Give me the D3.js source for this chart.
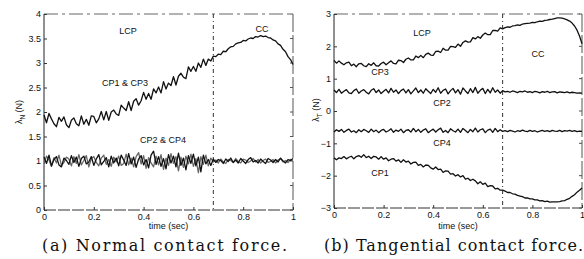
<!DOCTYPE html>
<html>
<head>
<meta charset="utf-8">
<script src="https://cdn.jsdelivr.net/npm/d3@7"></script>
<style>
  body { margin: 0; background: #fff; }
  svg { display: block; }
  .tick text { font-family: "Liberation Sans", Arial, sans-serif; font-size: 9px; fill: #111; }
  .lbl { font-family: "Liberation Sans", Arial, sans-serif; font-size: 9px; fill: #111; }
  .cap { font-family: "DejaVu Serif", serif; font-size: 16px; fill: #111; }
</style>
</head>
<body>
<div id="chart"></div>
<script>
// --- DATA ---
const time = [
  0,.01,.02,.03,.04,.05,.06,.07,.08,.09,
  .1,.11,.12,.13,.14,.15,.16,.17,.18,.19,
  .2,.21,.22,.23,.24,.25,.26,.27,.28,.29,
  .3,.31,.32,.33,.34,.35,.36,.37,.38,.39,
  .4,.41,.42,.43,.44,.45,.46,.47,.48,.49,
  .5,.51,.52,.53,.54,.55,.56,.57,.58,.59,
  .6,.61,.62,.63,.64,.65,.66,.67,.68,.69,
  .7,.71,.72,.73,.74,.75,.76,.77,.78,.79,
  .8,.81,.82,.83,.84,.85,.86,.87,.88,.89,
  .9,.91,.92,.93,.94,.95,.96,.97,.98,.99,
  1
];
const switchTime = 0.68; // LCP -> CC

// (a) normal force
const normalCP13 = [
  1.94,1.78,1.97,1.86,1.76,1.70,1.89,1.81,1.90,1.74,
  1.68,1.83,1.88,1.76,1.72,1.92,1.75,1.85,1.73,1.92,
  1.91,1.78,1.86,2.01,1.84,2.01,1.83,2.00,2.04,1.96,
  1.93,2.14,2.08,2.03,2.21,2.03,2.22,2.27,2.14,2.23,
  2.40,2.26,2.38,2.26,2.47,2.39,2.51,2.39,2.62,2.47,
  2.59,2.54,2.72,2.55,2.73,2.79,2.71,2.68,2.92,2.83,
  2.93,2.83,3.00,2.91,3.08,2.95,3.08,3.04,3.14,3.13,
  3.18,3.17,3.24,3.23,3.29,3.33,3.34,3.39,3.41,3.42,
  3.46,3.45,3.49,3.51,3.50,3.54,3.53,3.56,3.54,3.55,
  3.52,3.51,3.47,3.45,3.39,3.36,3.28,3.23,3.13,3.07,
  2.97
];
const normalCP2 = [
  1.08,.95,1.12,.90,1.03,1.09,.92,.88,1.06,1.01,
  .93,1.11,.97,1.08,.89,1.05,1.10,.94,.98,1.09,
  .91,1.04,1.13,.92,.99,1.07,.88,1.10,.96,1.06,
  .90,1.12,1.02,.91,1.15,.94,1.08,.87,1.04,1.11,
  .92,1.03,.86,1.12,1.20,.93,1.09,.89,1.05,.84,
  1.13,.96,1.10,.88,1.16,.91,1.06,.82,1.11,.95,
  1.14,.90,1.08,.78,1.12,.94,1.03,.91,1.04,.97,
  1.03,1.01,.95,1.04,.99,1.06,.97,1.02,.96,1.05,
  1.00,.95,1.03,1.07,.98,1.01,.96,1.04,.99,.95,
  1.05,1.02,.97,1.03,.98,1.06,1.00,.96,1.03,1.01,
  1.05
];
const normalCP4 = [
  .94,1.10,1.02,.89,1.07,.96,1.12,.91,.97,1.08,
  1.04,.90,1.09,.95,1.13,.92,1.01,1.11,.88,1.05,
  1.09,.97,.90,1.06,1.12,.93,1.03,.89,1.08,.98,
  1.10,.91,.95,1.14,.92,1.06,.88,1.09,1.17,.94,
  1.11,.85,1.07,.96,.88,1.10,.92,1.13,.83,1.06,
  .91,1.15,.95,1.09,.80,1.08,.87,1.10,.94,1.14,
  .89,1.05,.76,1.09,.93,1.12,.90,1.06,.98,1.02,
  .96,1.04,.98,.95,1.03,1.01,.97,1.05,.99,.96,
  1.04,1.02,.97,1.00,1.05,.98,1.03,.96,1.01,1.04,
  .97,.99,1.03,.96,1.02,1.05,.98,1.01,.97,1.03,
  1.00
];

// (b) tangential force
const tangCP3 = [
  1.56,1.48,1.55,1.48,1.43,1.49,1.51,1.40,1.45,1.37,
  1.46,1.47,1.40,1.37,1.46,1.41,1.49,1.40,1.39,1.47,
  1.51,1.43,1.49,1.55,1.47,1.46,1.57,1.56,1.50,1.60,
  1.64,1.58,1.58,1.70,1.65,1.72,1.65,1.75,1.79,1.73,
  1.72,1.84,1.85,1.81,1.94,1.88,1.88,2.00,1.99,1.97,
  2.07,2.00,2.12,2.17,2.13,2.14,2.27,2.23,2.30,2.25,
  2.35,2.41,2.36,2.36,2.49,2.49,2.47,2.57,2.54,2.58,
  2.60,2.59,2.63,2.64,2.66,2.65,2.69,2.70,2.71,2.72,
  2.74,2.73,2.76,2.78,2.77,2.80,2.81,2.83,2.84,2.86,
  2.88,2.88,2.87,2.85,2.82,2.78,2.72,2.63,2.50,2.32,
  2.08
];
const tangCP2 = [
  .65,.57,.67,.55,.61,.66,.56,.54,.63,.68,
  .55,.62,.66,.58,.53,.64,.69,.57,.65,.54,
  .61,.67,.56,.70,.58,.65,.54,.63,.68,.56,
  .66,.53,.62,.71,.57,.65,.55,.69,.61,.54,
  .67,.58,.72,.55,.64,.68,.53,.63,.70,.56,
  .66,.52,.71,.62,.54,.69,.57,.73,.55,.64,
  .70,.54,.67,.56,.72,.58,.65,.55,.63,.59,
  .61,.58,.62,.60,.57,.61,.59,.62,.58,.60,
  .57,.61,.59,.56,.60,.58,.61,.57,.59,.60,
  .56,.59,.58,.57,.59,.56,.58,.57,.55,.56,
  .55
];
const tangCP4 = [
  -.65,-.58,-.63,-.57,-.66,-.60,-.56,-.65,-.61,-.67,
  -.58,-.64,-.57,-.61,-.66,-.56,-.64,-.59,-.67,-.60,
  -.57,-.65,-.61,-.55,-.66,-.59,-.63,-.56,-.67,-.60,
  -.58,-.65,-.54,-.64,-.57,-.66,-.59,-.55,-.67,-.61,
  -.56,-.65,-.58,-.53,-.66,-.60,-.67,-.55,-.61,-.65,
  -.56,-.66,-.54,-.60,-.67,-.57,-.64,-.53,-.65,-.58,
  -.55,-.67,-.59,-.56,-.66,-.54,-.64,-.58,-.63,-.61,
  -.64,-.60,-.62,-.65,-.61,-.63,-.59,-.62,-.64,-.60,
  -.63,-.61,-.65,-.62,-.60,-.63,-.61,-.64,-.60,-.62,
  -.63,-.60,-.64,-.61,-.62,-.60,-.63,-.61,-.64,-.62,
  -.63
];
const tangCP1 = [
  -1.45,-1.51,-1.45,-1.47,-1.41,-1.48,-1.43,-1.40,-1.48,-1.41,
  -1.38,-1.43,-1.35,-1.44,-1.40,-1.47,-1.40,-1.42,-1.49,-1.41,
  -1.49,-1.45,-1.54,-1.49,-1.47,-1.55,-1.51,-1.59,-1.51,-1.58,
  -1.55,-1.64,-1.59,-1.58,-1.68,-1.65,-1.73,-1.67,-1.68,-1.76,
  -1.80,-1.73,-1.81,-1.80,-1.90,-1.85,-1.86,-1.95,-1.94,-2.01,
  -1.97,-2.04,-2.00,-2.11,-2.08,-2.15,-2.11,-2.16,-2.25,-2.19,
  -2.27,-2.23,-2.34,-2.31,-2.32,-2.41,-2.39,-2.45,-2.45,-2.48,
  -2.52,-2.52,-2.56,-2.57,-2.61,-2.63,-2.65,-2.69,-2.69,-2.72,
  -2.72,-2.75,-2.75,-2.78,-2.77,-2.80,-2.79,-2.82,-2.81,-2.81,
  -2.81,-2.80,-2.78,-2.77,-2.73,-2.70,-2.64,-2.59,-2.51,-2.45,
  -2.38
];

const xTicks = [0, 0.2, 0.4, 0.6, 0.8, 1];
const yTicksA = [0, 0.5, 1, 1.5, 2, 2.5, 3, 3.5, 4];
const yTicksB = [-3, -2, -1, 0, 1, 2, 3];

// --- PANELS ---
const panels = [
  {
    x0: 44, x1: 293, yTop: 14, yBot: 210, yDomain: [0, 4], yTicks: yTicksA,
    ylabX: 22, ylabY: 112, sub: "N",
    series: [
      { values: normalCP4, color: "#666" },
      { values: normalCP2, color: "#111" },
      { values: normalCP13, color: "#111" }
    ],
    notes: [
      { text: "LCP", x: 128, y: 32 }, { text: "CC", x: 262, y: 30 },
      { text: "CP1 & CP3", x: 125, y: 84 }, { text: "CP2 & CP4", x: 163, y: 141 }
    ],
    caption: "(a) Normal contact force.", capX: 42, capW: 245
  },
  {
    x0: 334, x1: 582, yTop: 14, yBot: 208, yDomain: [-3, 3], yTicks: yTicksB,
    ylabX: 319, ylabY: 110, sub: "T",
    series: [
      { values: tangCP3, color: "#111" },
      { values: tangCP2, color: "#111" },
      { values: tangCP4, color: "#111" },
      { values: tangCP1, color: "#111" }
    ],
    notes: [
      { text: "LCP", x: 422, y: 34 }, { text: "CC", x: 538, y: 55 },
      { text: "CP3", x: 380, y: 73 }, { text: "CP2", x: 442, y: 104 },
      { text: "CP4", x: 442, y: 144 }, { text: "CP1", x: 380, y: 174 }
    ],
    caption: "(b) Tangential contact force.", capX: 324, capW: 259
  }
];

const svg = d3.select("#chart").append("svg")
  .attr("width", 584).attr("height", 259);

panels.forEach(p => {
  const xScale = d3.scaleLinear().domain([0, 1]).range([p.x0, p.x1]);
  const yScale = d3.scaleLinear().domain(p.yDomain).range([p.yBot, p.yTop]);
  const g = svg.append("g");

  // frame (scanned look: broken lines)
  g.append("line").attr("x1", p.x0).attr("x2", p.x1).attr("y1", p.yTop).attr("y2", p.yTop)
    .attr("stroke", "#666").attr("stroke-dasharray", "14,4,3,4");
  g.append("line").attr("x1", p.x1).attr("x2", p.x1).attr("y1", p.yTop).attr("y2", p.yBot)
    .attr("stroke", "#555").attr("stroke-dasharray", "18,3");
  g.append("line").attr("x1", p.x0).attr("x2", p.x1).attr("y1", p.yBot).attr("y2", p.yBot)
    .attr("stroke", "#333").attr("stroke-dasharray", "12,2");
  g.append("line").attr("x1", p.x0).attr("x2", p.x0).attr("y1", p.yTop).attr("y2", p.yBot)
    .attr("stroke", "#222");

  // axes
  const xAxis = g.append("g").attr("transform", `translate(0,${p.yBot})`)
    .call(d3.axisBottom(xScale).tickValues(xTicks).tickSizeInner(-3).tickSizeOuter(0).tickPadding(4)
      .tickFormat(d3.format("~g")));
  xAxis.select(".domain").remove();
  xAxis.selectAll(".tick line").attr("stroke", "#333");

  const yAxis = g.append("g").attr("transform", `translate(${p.x0},0)`)
    .call(d3.axisLeft(yScale).tickValues(p.yTicks).tickSizeInner(-3).tickSizeOuter(0).tickPadding(3)
      .tickFormat(d3.format("~g")));
  yAxis.select(".domain").remove();
  yAxis.selectAll(".tick line").attr("stroke", "#333");

  // mirrored ticks on the right
  g.selectAll(".rtick").data(p.yTicks).enter().append("line")
    .attr("x1", p.x1).attr("x2", p.x1 - 3)
    .attr("y1", d => yScale(d)).attr("y2", d => yScale(d))
    .attr("stroke", "#555");

  // LCP / CC switch
  g.append("line")
    .attr("x1", xScale(switchTime)).attr("x2", xScale(switchTime))
    .attr("y1", p.yTop).attr("y2", p.yBot)
    .attr("stroke", "#333").attr("stroke-dasharray", "4,3,1,3");

  // curves
  const line = d3.line().x(d => xScale(d[0])).y(d => yScale(d[1]));
  p.series.forEach(s => {
    g.append("path")
      .datum(s.values.map((v, i) => [time[i], v]))
      .attr("fill", "none")
      .attr("stroke", s.color)
      .attr("stroke-width", 1.3)
      .attr("stroke-linejoin", "round")
      .attr("d", line);
  });

  // annotations
  g.selectAll(".note").data(p.notes).enter().append("text")
    .attr("class", "lbl")
    .attr("x", d => d.x).attr("y", d => d.y)
    .attr("text-anchor", "middle").attr("dominant-baseline", "middle")
    .text(d => d.text);

  // axis labels
  g.append("text").attr("class", "lbl")
    .attr("x", (p.x0 + p.x1) / 2).attr("y", 229)
    .attr("text-anchor", "middle")
    .text("time (sec)");

  const yl = g.append("text").attr("class", "lbl")
    .attr("transform", `translate(${p.ylabX},${p.ylabY}) rotate(-90)`)
    .attr("text-anchor", "middle");
  yl.append("tspan").text("λ");
  yl.append("tspan").attr("dy", 3).attr("font-size", "6.5px").text(p.sub);
  yl.append("tspan").attr("dy", -3).text(" (N)");

  // caption
  g.append("text").attr("class", "cap")
    .attr("x", p.capX).attr("y", 251)
    .attr("textLength", p.capW).attr("lengthAdjust", "spacing")
    .text(p.caption);
});
</script>
</body>
</html>
